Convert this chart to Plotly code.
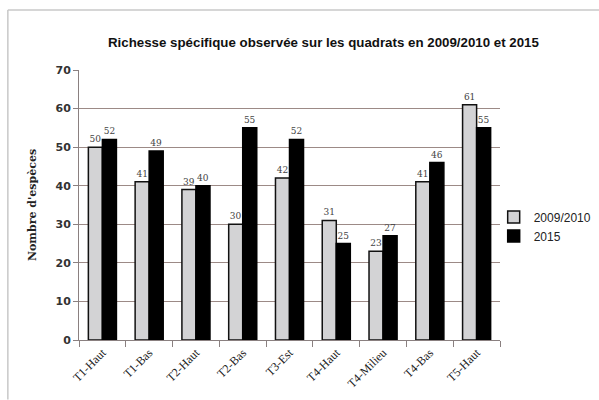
import plotly.graph_objects as go

categories = ["T1-Haut", "T1-Bas", "T2-Haut", "T2-Bas", "T3-Est", "T4-Haut", "T4-Milieu", "T4-Bas", "T5-Haut"]
vals_2009 = [50, 41, 39, 30, 42, 31, 23, 41, 61]
vals_2015 = [52, 49, 40, 55, 52, 25, 27, 46, 55]
series_names = ["2009/2010", "2015"]
y_ticks = [0, 10, 20, 30, 40, 50, 60, 70]

fig = go.Figure()
fig.add_trace(go.Bar(
    x=categories, y=vals_2009, name=series_names[0],
    marker=dict(color="#d3d3d5", line=dict(color="#111111", width=1.5)),
    text=vals_2009, textposition="outside", cliponaxis=False,
    textfont=dict(family="DejaVu Serif", size=9, color="#444444"),
))
fig.add_trace(go.Bar(
    x=categories, y=vals_2015, name=series_names[1],
    marker=dict(color="#000000", line=dict(color="#000000", width=1.5)),
    text=vals_2015, textposition="outside", cliponaxis=False,
    textfont=dict(family="DejaVu Serif", size=9, color="#444444"),
))

fig.update_layout(
    width=599, height=400,
    margin=dict(l=79, r=99, t=70, b=60, autoexpand=False),
    paper_bgcolor="white", plot_bgcolor="white",
    barmode="group", bargap=0.4, bargroupgap=0,
    title=dict(text="<b>Richesse spécifique observée sur les quadrats en 2009/2010 et 2015</b>",
               x=0.54, xanchor="center", y=0.895, yanchor="middle",
               font=dict(family="Liberation Sans", size=13.3, color="#111111")),
    legend=dict(x=0.985, xanchor="left", y=0.42, yanchor="middle",
                font=dict(family="Liberation Sans", size=12, color="#222222"),
                itemwidth=30, tracegroupgap=4, bgcolor="rgba(0,0,0,0)"),
    showlegend=True,
    font=dict(family="Liberation Sans"),
)
fig.update_xaxes(
    type="category", tickangle=-45, tickson="boundaries", ticks="outside", ticklen=6,
    tickcolor="#8a8080", showline=True, linecolor="#8a8080", linewidth=1,
    tickfont=dict(family="Liberation Serif", size=12, color="#222222"),
    showgrid=False,
)
fig.update_yaxes(
    range=[0, 70], tickvals=y_ticks, ticks="outside", ticklen=5, tickcolor="#8a8080",
    showline=True, linecolor="#8a8080", linewidth=1,
    showgrid=True, gridcolor="#9c8a86", gridwidth=1,
    tickfont=dict(family="DejaVu Sans", size=11, color="#333333", weight="bold"),
    title=dict(text="<b>Nombre d'espèces</b>", standoff=16,
               font=dict(family="DejaVu Serif", size=11, color="#222222")),
    zeroline=False,
)
# chart frame (left and top edges)
fig.add_shape(type="line", xref="paper", yref="paper", x0=-0.169, x1=1.25, y0=1.222, y1=1.222,
              line=dict(color="#c8c8c8", width=1.5))
fig.add_shape(type="line", xref="paper", yref="paper", x0=-0.169, x1=-0.169, y0=-0.22, y1=1.222,
              line=dict(color="#c8c8c8", width=1.5))

fig.write_html("out.html")
